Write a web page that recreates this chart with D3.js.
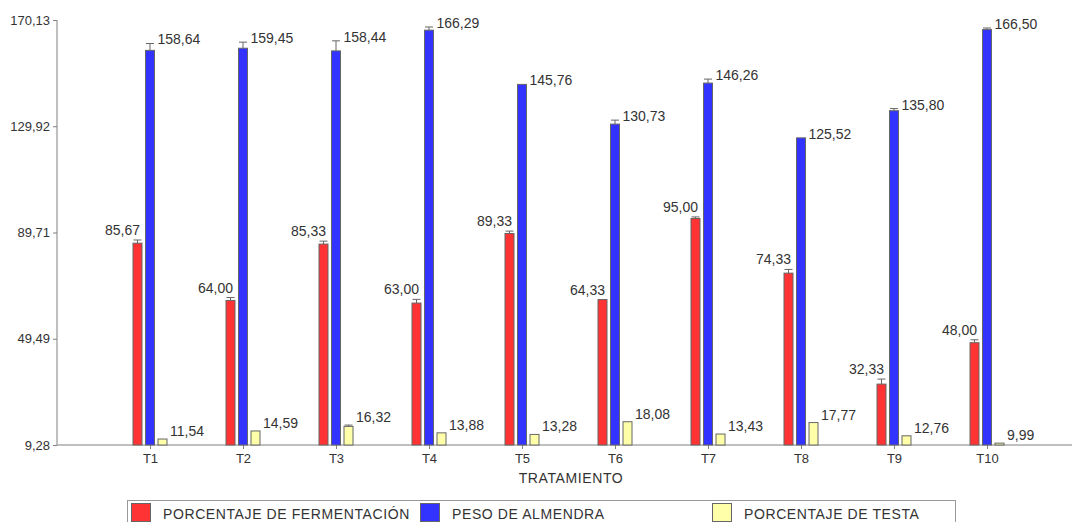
<!DOCTYPE html>
<html>
<head>
<meta charset="utf-8">
<script src="https://cdn.jsdelivr.net/npm/d3@7"></script>
<style>
  body { margin: 0; background: #fff; }
  svg { display: block; font-family: "Liberation Sans", Arial, sans-serif; }
  .axis path, .axis line { stroke: #808080; }
  .axis text { fill: #333; font-size: 13px; }
</style>
</head>
<body>
<svg width="1072" height="522"></svg>
<script>
var categories = ["T1","T2","T3","T4","T5","T6","T7","T8","T9","T10"]
var fermentacion = [85.67, 64.00, 85.33, 63.00, 89.33, 64.33, 95.00, 74.33, 32.33, 48.00]
var almendra = [158.64, 159.45, 158.44, 166.29, 145.76, 130.73, 146.26, 125.52, 135.80, 166.50]
var testa = [11.54, 14.59, 16.32, 13.88, 13.28, 18.08, 13.43, 17.77, 12.76, 9.99]
var errFermentacion = [1.2, 1.1, 1.1, 1.4, 0.9, 0, 0.6, 1.4, 1.9, 1.1]
var errAlmendra = [2.6, 2.3, 3.8, 1.2, 0, 1.5, 1.5, 0, 0.8, 0.6]
var errTesta = [0, 0, 0.5, 0, 0, 0, 0, 0, 0, 0]
var yTicks = [9.28, 49.49, 89.71, 129.92, 170.13]
var seriesNames = ["PORCENTAJE DE FERMENTACIÓN", "PESO DE ALMENDRA", "PORCENTAJE DE TESTA"]
var seriesColors = ["#ff3333", "#3333ff", "#ffffaa"]

var svg = d3.select("svg")
var plot = {left:57, right:1072, top:20, bottom:445}

var yScale = d3.scaleLinear()
    .domain([yTicks[0], yTicks[yTicks.length-1]])
    .range([plot.bottom, plot.top])

// one empty slot before T1
var xScale = d3.scalePoint()
    .domain([""].concat(categories))
    .range([plot.left, plot.left + 93*categories.length])

var comma = function(v){ return d3.format(".2f")(v).replace(".", ",") }

var yAxis = d3.axisLeft(yScale).tickValues(yTicks).tickSize(4).tickFormat(comma)
svg.append("g").attr("class","axis")
    .attr("transform","translate("+plot.left+",0)")
    .call(yAxis)
    .call(function(g){ g.select(".domain").attr("d","M0,"+plot.top+"V"+plot.bottom) })

var xAxis = d3.axisBottom(xScale).tickValues(categories).tickSize(4).tickPadding(5)
svg.append("g").attr("class","axis")
    .attr("transform","translate(0,"+plot.bottom+")")
    .call(xAxis)
    .call(function(g){ g.select(".domain").attr("d","M"+plot.left+",0H"+plot.right) })

svg.append("text")
    .attr("x", 571).attr("y", 483)
    .attr("text-anchor","middle")
    .attr("fill","#333").style("font-size","14px").style("letter-spacing","0.6px")
    .text("TRATAMIENTO")

var series = [
  {values: fermentacion, err: errFermentacion, offset: -12.5, color: seriesColors[0], pos: "left"},
  {values: almendra, err: errAlmendra, offset: 0, color: seriesColors[1], pos: "right"},
  {values: testa, err: errTesta, offset: 12.5, color: seriesColors[2], pos: "right"}
]
var bw = 9

series.forEach(function(s){
  var g = svg.append("g")
  categories.forEach(function(c, i){
    var cx = xScale(c) + s.offset
    var v = s.values[i]
    var yTop = yScale(v)
    g.append("rect")
      .attr("x", cx - bw/2).attr("y", yTop)
      .attr("width", bw).attr("height", yScale(yTicks[0]) - yTop)
      .attr("fill", s.color).attr("stroke","#666").attr("stroke-width",1)
    var capY = yScale(v + s.err[i])
    if (s.err[i] > 0) {
      g.append("line").attr("x1",cx).attr("x2",cx).attr("y1",yTop).attr("y2",capY).attr("stroke","#666")
      g.append("line").attr("x1",cx-4).attr("x2",cx+4).attr("y1",capY).attr("y2",capY).attr("stroke","#666")
    }
    var t = g.append("text").attr("fill","#333").style("font-size","14px").text(comma(v))
    if (s.pos == "left") {
      t.attr("x", cx + bw/2 - 2).attr("y", capY - 5).attr("text-anchor","end")
    } else if (s.offset == 0) {
      t.attr("x", cx + bw/2 + 3).attr("y", capY + 1)
    } else {
      t.attr("x", cx + bw/2 + 3).attr("y", capY - 3)
    }
  })
})

// legend
var legend = svg.append("g")
legend.append("rect")
    .attr("x", 127.5).attr("y", 500.5).attr("width", 828).attr("height", 30)
    .attr("fill","none").attr("stroke","#999")
var legX = [131, 420, 712]
seriesNames.forEach(function(n, i){
  legend.append("rect")
    .attr("x", legX[i] + 0.5).attr("y", 503.5).attr("width", 19).attr("height", 18)
    .attr("fill", seriesColors[i]).attr("stroke","#666")
  legend.append("text")
    .attr("x", legX[i] + 32).attr("y", 519)
    .attr("fill","#333").style("font-size","14px").style("letter-spacing","0.6px")
    .text(n)
})
</script>
</body>
</html>
